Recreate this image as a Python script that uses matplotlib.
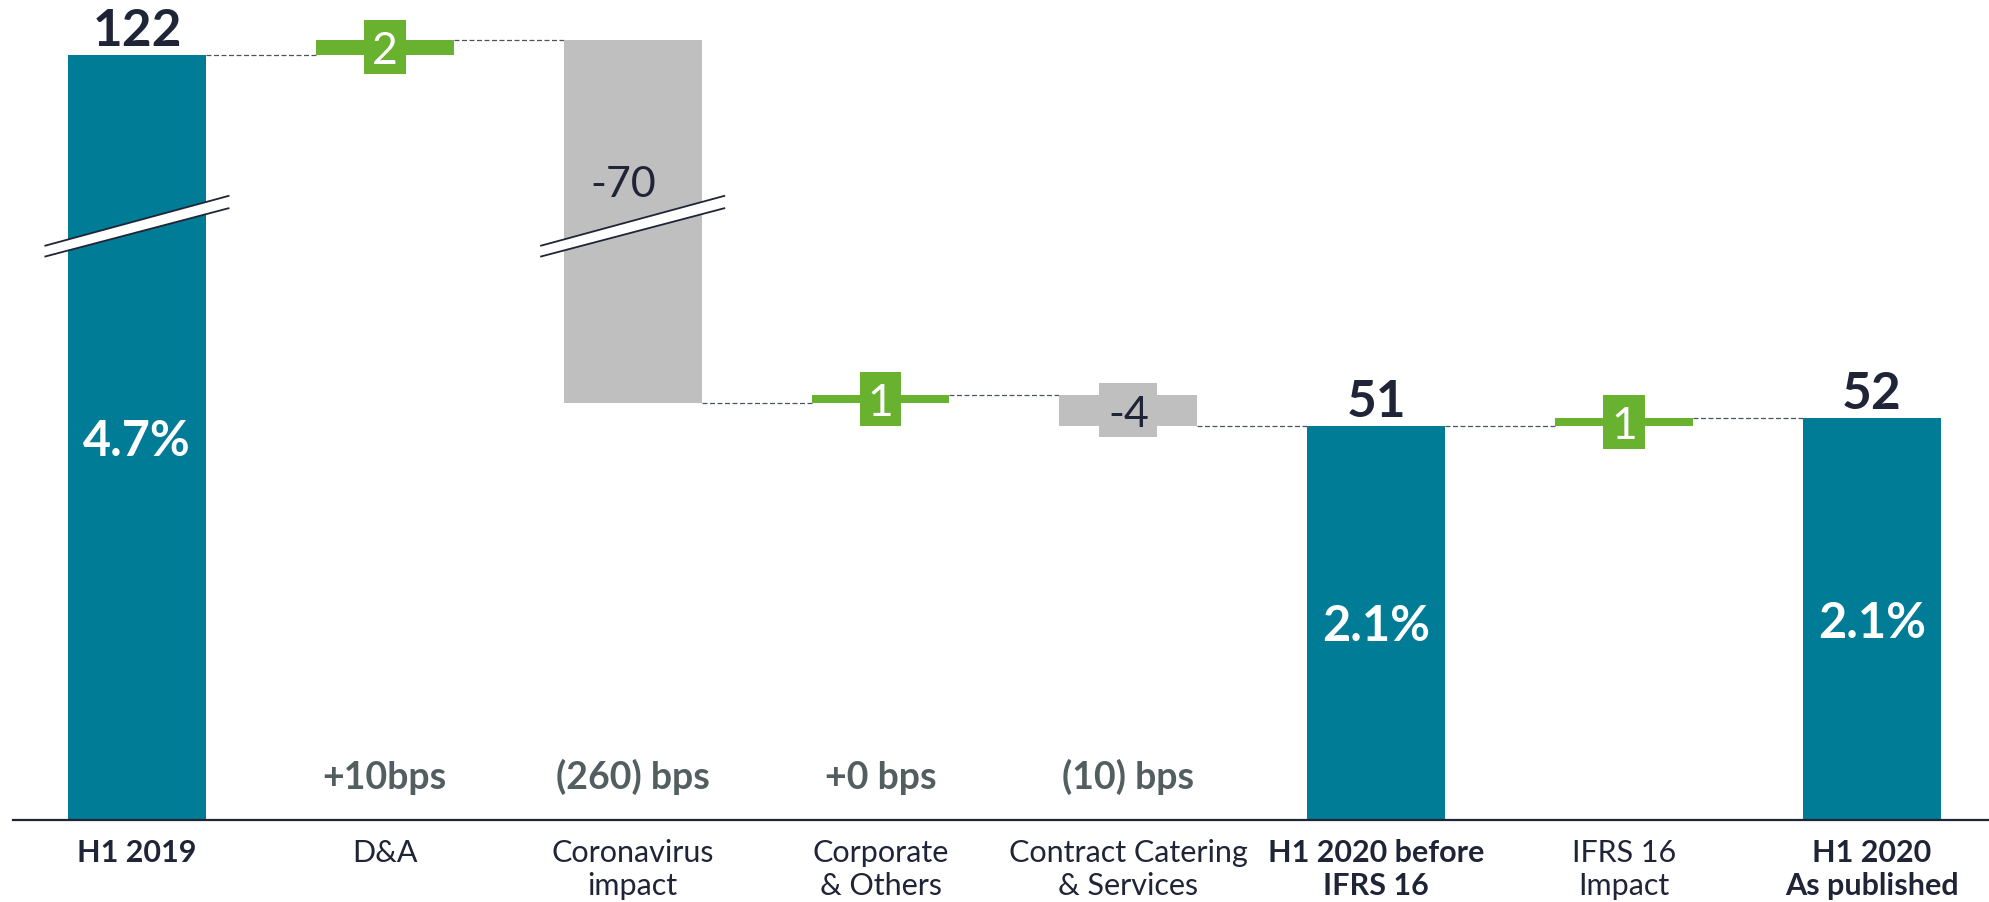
import numpy as np
import matplotlib
matplotlib.use("Agg")
import matplotlib.pyplot as plt
from matplotlib.patches import Polygon

# ---------------- data ----------------
categories = ["H1 2019", "D&A", "Coronavirus\nimpact", "Corporate\n& Others",
              "Contract Catering\n& Services", "H1 2020 before\nIFRS 16",
              "IFRS 16\nImpact", "H1 2020\nAs published"]
kinds = ["total", "delta", "delta", "delta", "delta", "total", "delta", "total"]
values = [122, 2, -70, 1, -4, 51, 1, 52]
value_labels = ["122", "2", "-70", "1", "-4", "51", "1", "52"]
margin_labels = ["4.7%", "+10bps", "(260) bps", "+0 bps", "(10) bps", "2.1%", "", "2.1%"]
bold_ticks = [True, False, False, False, False, True, False, True]

# ---------------- style ----------------
plt.rcParams['font.family'] = ['Lato', 'DejaVu Sans']
TEAL = "#007C96"
GREEN = "#68B22F"
GREY = "#BFBFBF"
NAVY = "#1F2437"
BPS = "#535E61"
DASH = "#4F5360"

W, H = 1989, 903
PX = 7.727          # pixels per value unit
BAR_W = 0.556
cut_lo, cut_hi = 77.0, 100.0
GAP = cut_hi - cut_lo
EPS = 1e-4


def fwd(v):
    v = np.asarray(v, float)
    return np.where(v <= cut_lo, v,
                    np.where(v >= cut_hi, v - GAP + GAP * EPS,
                             cut_lo + (v - cut_lo) * EPS))


def inv(u):
    u = np.asarray(u, float)
    top = cut_lo + GAP * EPS
    return np.where(u <= cut_lo, u,
                    np.where(u >= top, u + GAP - GAP * EPS,
                             cut_lo + (u - cut_lo) / EPS))


fig = plt.figure(figsize=(W / 100, H / 100), dpi=100)
ax_left, ax_bottom = 13 / W, 82 / H
ax = fig.add_axes([ax_left, ax_bottom, 1 - ax_left, 1 - ax_bottom])
ax.set_yscale('function', functions=(fwd, inv))
ax.set_ylim(0, float(inv((H - 82) / PX)))
ax.set_xlim(-0.5, 7.472)

# ---------------- waterfall geometry ----------------
bottoms, tops, levels = [], [], []
running = 0.0
for k, v in zip(kinds, values):
    if k == "total":
        b, t = 0.0, float(v)
    else:
        b, t = running, running + v
    running = t
    bottoms.append(b)
    tops.append(t)
    levels.append(running)

x = np.arange(len(categories))
for i, (k, v) in enumerate(zip(kinds, values)):
    lo, hi = min(bottoms[i], tops[i]), max(bottoms[i], tops[i])
    if k == "total":
        col = TEAL
    else:
        col = GREEN if v > 0 else GREY
    ax.bar(x[i], hi - lo, bottom=lo, width=BAR_W, color=col, zorder=2)

    if k == "delta":
        span_px = (float(fwd(hi)) - float(fwd(lo))) * PX
        mid = (float(fwd(lo)) + float(fwd(hi))) / 2
        if span_px < 54:
            sq_w = 0.169 if v > 0 else 0.234
            hh = 54 / PX / 2
            b0, b1 = float(inv(mid - hh)), float(inv(mid + hh))
            ax.bar(x[i], b1 - b0, bottom=b0, width=sq_w, color=col, zorder=2)
            ax.annotate(value_labels[i], (x[i], float(inv(mid))), xytext=(0, -16),
                        textcoords="offset pixels", ha="center", va="baseline",
                        fontsize=32 if v > 0 else 31,
                        color="white" if v > 0 else NAVY, zorder=4)
        else:
            ypos = float(inv(float(fwd(hi)) - 141 / PX))
            ax.annotate(value_labels[i], (x[i], ypos), xytext=(-9, -15.5),
                        textcoords="offset pixels", ha="center", va="baseline",
                        fontsize=31, color=NAVY, zorder=4)
        if margin_labels[i]:
            ax.text(x[i], 4.2, margin_labels[i], ha="center", va="baseline",
                    fontsize=27, fontweight="bold", color=BPS, zorder=4)
    else:
        ax.annotate(value_labels[i], (x[i], tops[i]), xytext=(0, 10),
                    textcoords="offset pixels", ha="center", va="baseline",
                    fontsize=37, fontweight="bold", color=NAVY, zorder=4)
        cy = float(inv(float(fwd(tops[i])) / 2))
        ax.annotate(margin_labels[i], (x[i], cy), xytext=(0, -17.5),
                    textcoords="offset pixels", ha="center", va="baseline",
                    fontsize=35, fontweight="bold", color="white", zorder=4)

    # axis break marks
    if lo < cut_lo and hi > cut_hi:
        dx = 0.373
        ul, ll = cut_lo - 2.7, cut_lo - 4.1
        ur, lr = cut_lo + 3.8, cut_lo + 2.2
        xl, xr = x[i] - dx, x[i] + dx
        poly = Polygon([(xl, float(inv(ll))), (xr, float(inv(lr))),
                        (xr, float(inv(ur))), (xl, float(inv(ul)))],
                       closed=True, facecolor="white", edgecolor="none", zorder=3)
        ax.add_patch(poly)
        ax.plot([xl, xr], [float(inv(ul)), float(inv(ur))], color=NAVY, lw=1.3,
                zorder=3.5, solid_capstyle="butt")
        ax.plot([xl, xr], [float(inv(ll)), float(inv(lr))], color=NAVY, lw=1.3,
                zorder=3.5, solid_capstyle="butt")

# connectors
for i in range(len(categories) - 1):
    ax.plot([x[i] + BAR_W / 2, x[i + 1] - BAR_W / 2], [levels[i], levels[i]],
            ls=(0, (4, 2)), color=DASH, lw=0.9, zorder=1)

# ---------------- axes styling ----------------
for s in ["top", "right", "left"]:
    ax.spines[s].set_visible(False)
ax.spines["bottom"].set_color(NAVY)
ax.spines["bottom"].set_linewidth(1.6)
ax.set_yticks([])
ax.set_xticks(x)
ax.set_xticklabels(categories, fontsize=22, color=NAVY, linespacing=1.22)
for lab, b in zip(ax.get_xticklabels(), bold_ticks):
    if b:
        lab.set_fontweight("bold")
ax.tick_params(axis="x", length=0, pad=13)
ax.set_facecolor("white")
fig.patch.set_facecolor("white")

fig.savefig("out.png", dpi=100, facecolor="white")
